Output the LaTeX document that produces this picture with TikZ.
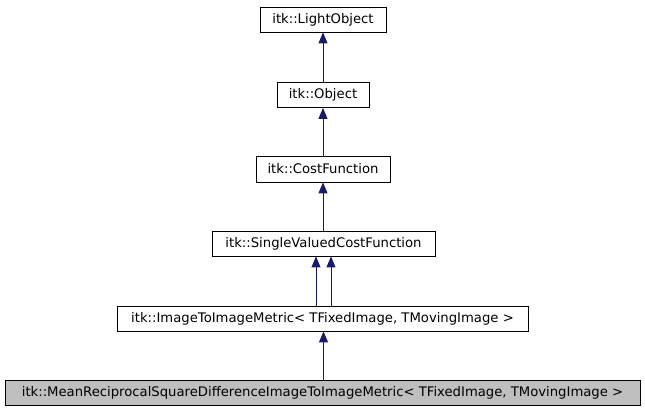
\documentclass[tikz,border=0pt]{standalone}
\usepackage{fontspec}
\setmainfont{DejaVu Sans}
\usetikzlibrary{arrows.meta}
\definecolor{edgeblue}{HTML}{191970}
\tikzset{
  cls/.style={draw=black, line width=0.8pt, fill=white, inner sep=0pt, font=\fontsize{13.2}{15}\selectfont},
  inh/.style={draw=edgeblue, line width=0.8pt, -{Triangle[length=11pt,width=9pt]}},
}
\begin{document}
\begin{tikzpicture}[x=1pt,y=-1pt]
\useasboundingbox (0,0) rectangle (645,411);
\node[cls, minimum width=126pt, minimum height=25pt] (lo) at (323,19.5) {itk::LightObject};
\node[cls, minimum width=92pt, minimum height=25pt] (ob) at (323,95) {itk::Object};
\node[cls, minimum width=134pt, minimum height=26pt] (cf) at (323,169) {itk::CostFunction};
\node[cls, minimum width=223pt, minimum height=25pt] (sv) at (323.5,243.5) {itk::SingleValuedCostFunction};
\node[cls, minimum width=411pt, minimum height=25pt] (im) at (322.5,318.5) {itk::ImageToImageMetric< TFixedImage, TMovingImage >};
\node[cls, fill={rgb,255:red,191;green,191;blue,191}, minimum width=635pt, minimum height=25pt] (mr) at (322.5,392.5) {itk::MeanReciprocalSquareDifferenceImageToImageMetric< TFixedImage, TMovingImage >};
\draw[inh] (ob.north) -- (lo.south);
\draw[inh] (cf.north) -- (ob.south);
\draw[inh] (sv.north -| cf.north) -- (cf.south);
\draw[inh] ([xshift=-7.5pt]im.north -| sv.south) -- ([xshift=-7.5pt]sv.south);
\draw[inh] ([xshift=7.5pt]im.north -| sv.south) -- ([xshift=7.5pt]sv.south);
\draw[inh] (mr.north -| sv.south) -- (im.south -| sv.south);
\end{tikzpicture}
\end{document}
